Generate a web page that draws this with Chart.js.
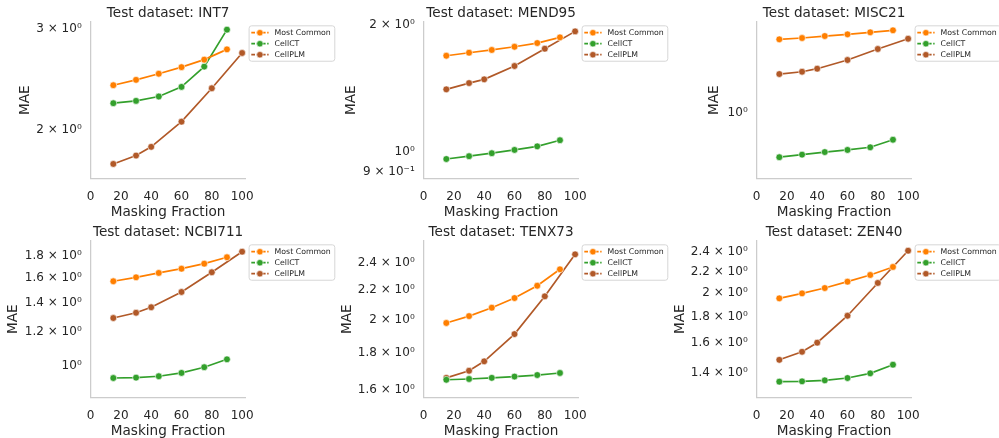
<!DOCTYPE html>
<html><head><meta charset="utf-8">
<script src="https://cdn.jsdelivr.net/npm/chart.js@4.4.1/dist/chart.umd.min.js"></script>
<style>
html,body{margin:0;padding:0;background:#fff;overflow:hidden;width:999px;height:438px;position:relative;}
canvas{position:absolute;}
</style></head><body>
<script>
// ---------- data ----------
const seriesNames = ['Most Common', 'CellCT', 'CellPLM'];
const maskingFractions = [15, 30, 45, 60, 75, 90];      // Most Common & CellCT
const maskingFractionsPLM = [15, 30, 40, 60, 80, 100];  // CellPLM
const xTicks = [0, 20, 40, 60, 80, 100];

const int7MostCommon = [2.391, 2.443, 2.504, 2.571, 2.650, 2.762];
const int7CellCT     = [2.224, 2.245, 2.285, 2.375, 2.577, 2.990];
const int7CellPLM    = [1.742, 1.802, 1.866, 2.065, 2.362, 2.722];
const int7Ticks      = [2, 3];
const int7TickLabels = ['2 × 10⁰', '3 × 10⁰'];

const mend95MostCommon = [1.692, 1.720, 1.746, 1.777, 1.813, 1.870];
const mend95CellCT     = [0.964, 0.979, 0.995, 1.013, 1.033, 1.068];
const mend95CellPLM    = [1.409, 1.458, 1.488, 1.600, 1.758, 1.932];
const mend95Ticks      = [0.9, 1, 2];
const mend95TickLabels = ['9 × 10⁻¹', '10⁰', '2 × 10⁰'];

const misc21MostCommon = [1.635, 1.649, 1.671, 1.690, 1.713, 1.736];
const misc21CellCT     = [0.747, 0.760, 0.773, 0.784, 0.798, 0.839];
const misc21CellPLM    = [1.298, 1.318, 1.345, 1.425, 1.533, 1.641];
const misc21Ticks      = [1];
const misc21TickLabels = ['10⁰'];

const ncbi711MostCommon = [1.574, 1.608, 1.646, 1.684, 1.730, 1.791];
const ncbi711CellCT     = [0.936, 0.938, 0.945, 0.962, 0.992, 1.035];
const ncbi711CellPLM    = [1.292, 1.329, 1.369, 1.486, 1.652, 1.845];
const ncbi711Ticks      = [1, 1.2, 1.4, 1.6, 1.8];
const ncbi711TickLabels = ['10⁰', '1.2 × 10⁰', '1.4 × 10⁰', '1.6 × 10⁰', '1.8 × 10⁰'];

const tenx73MostCommon = [1.979, 2.023, 2.078, 2.143, 2.229, 2.349];
const tenx73CellCT     = [1.651, 1.655, 1.661, 1.668, 1.676, 1.687];
const tenx73CellPLM    = [1.661, 1.699, 1.751, 1.910, 2.155, 2.464];
const tenx73Ticks      = [1.6, 1.8, 2, 2.2, 2.4];
const tenx73TickLabels = ['1.6 × 10⁰', '1.8 × 10⁰', '2 × 10⁰', '2.2 × 10⁰', '2.4 × 10⁰'];

const zen40MostCommon = [1.954, 1.998, 2.046, 2.105, 2.169, 2.248];
const zen40CellCT     = [1.347, 1.349, 1.355, 1.369, 1.398, 1.453];
const zen40CellPLM    = [1.485, 1.539, 1.603, 1.808, 2.093, 2.417];
const zen40Ticks      = [1.4, 1.6, 1.8, 2, 2.2, 2.4];
const zen40TickLabels = ['1.4 × 10⁰', '1.6 × 10⁰', '1.8 × 10⁰', '2 × 10⁰', '2.2 × 10⁰', '2.4 × 10⁰'];

// ---------- panels ----------
const panels = [
  {name: 'INT7',    series: [int7MostCommon, int7CellCT, int7CellPLM],          ticks: int7Ticks,    labels: int7TickLabels},
  {name: 'MEND95',  series: [mend95MostCommon, mend95CellCT, mend95CellPLM],    ticks: mend95Ticks,  labels: mend95TickLabels},
  {name: 'MISC21',  series: [misc21MostCommon, misc21CellCT, misc21CellPLM],    ticks: misc21Ticks,  labels: misc21TickLabels},
  {name: 'NCBI711', series: [ncbi711MostCommon, ncbi711CellCT, ncbi711CellPLM], ticks: ncbi711Ticks, labels: ncbi711TickLabels},
  {name: 'TENX73',  series: [tenx73MostCommon, tenx73CellCT, tenx73CellPLM],    ticks: tenx73Ticks,  labels: tenx73TickLabels},
  {name: 'ZEN40',   series: [zen40MostCommon, zen40CellCT, zen40CellPLM],       ticks: zen40Ticks,   labels: zen40TickLabels},
];

// ---------- layout / style ----------
const yRanges = [[1.643, 3.083], [0.867, 2.033], [0.6485, 1.834], [0.843, 1.954], [1.56, 2.571], [1.255, 2.524]];
const yTitleCenter = [25.8, 18, 48, 13.8, 14.2, 14.5];
const colors = ['#ff7f00', '#33a02c', '#b15928'];
const TEXT = '#262626';
const FONT = 'DejaVu Sans';
const CW = 340, CH = 219;
const AREA_LEFT = 90.6, AREA_W = 155, AREA_BOTTOM = 178.5;

const boxLegend = {
  id: 'boxLegend',
  afterDraw(chart) {
    const {ctx, chartArea} = chart;
    const L = chartArea.right + 3, T = chartArea.top + 3.3;
    ctx.save();
    ctx.font = '7.8px "' + FONT + '"';
    const tw = Math.max(...chart.data.datasets.map(d => ctx.measureText(d.label).width));
    const W = 26 + tw + 3.5, H = 35.4;
    ctx.beginPath();
    ctx.roundRect(L + 0.5, T + 0.5, W, H, 2.5);
    ctx.fillStyle = 'rgba(255,255,255,0.8)';
    ctx.fill();
    ctx.strokeStyle = '#d6d6d6';
    ctx.lineWidth = 1;
    ctx.stroke();
    chart.data.datasets.forEach((d, i) => {
      const y = T + 7.4 + i * 11;
      ctx.strokeStyle = d.borderColor;
      ctx.lineWidth = 1.7;
      ctx.setLineDash([3.7, 1.6]);
      ctx.beginPath(); ctx.moveTo(L + 2.7, y); ctx.lineTo(L + 20, y); ctx.stroke();
      ctx.setLineDash([]);
      ctx.beginPath(); ctx.arc(L + 11.3, y, 3.2, 0, Math.PI * 2);
      ctx.fillStyle = d.backgroundColor; ctx.fill();
      ctx.strokeStyle = '#fff'; ctx.lineWidth = 0.6; ctx.stroke();
      ctx.fillStyle = TEXT; ctx.textBaseline = 'middle'; ctx.textAlign = 'left';
      ctx.fillText(d.label, L + 26, y);
    });
    ctx.restore();
  }
};

panels.forEach((p, i) => {
  const col = i % 3, row = Math.floor(i / 3);
  const cv = document.createElement('canvas');
  cv.width = CW; cv.height = CH;
  cv.style.left = (col * 333) + 'px';
  cv.style.top = (row * 219) + 'px';
  cv.style.width = CW + 'px'; cv.style.height = CH + 'px';
  document.body.appendChild(cv);

  const datasets = seriesNames.map((s, k) => {
    const xs = k === 2 ? maskingFractionsPLM : maskingFractions;
    return {
      label: s,
      data: p.series[k].map((v, j) => ({x: xs[j], y: v})),
      borderColor: colors[k], backgroundColor: colors[k],
      borderWidth: 1.7, pointRadius: 3.4, pointBorderColor: '#ffffff', pointBorderWidth: 0.6,
      pointHoverRadius: 3.4, tension: 0, fill: false, clip: false
    };
  });

  const yMin = yRanges[i][0], yMax = yRanges[i][1];

  new Chart(cv, {
    type: 'line',
    data: {datasets},
    plugins: [boxLegend],
    options: {
      responsive: false, animation: false, devicePixelRatio: 1,
      events: [],
      layout: {padding: {left: 0, right: CW - AREA_LEFT - AREA_W, top: 0, bottom: 0}},
      plugins: {
        legend: {display: false},
        tooltip: {enabled: false},
        title: {
          display: true, text: 'Test dataset: ' + p.name, fullSize: false, color: TEXT,
          font: {family: FONT, size: 13.6, weight: 'normal', lineHeight: 1.2},
          padding: {top: 5.3, bottom: 0.4}
        }
      },
      scales: {
        x: {
          type: 'linear', min: 0, max: 102.3, bounds: 'data',
          afterBuildTicks: s => { s.ticks = xTicks.map(v => ({value: v})); s.min = 0; s.max = 102.3; },
          afterFit: s => { s.height = CH - AREA_BOTTOM; },
          grid: {display: false, drawTicks: false},
          border: {display: true, color: '#cccccc', width: 1.25},
          ticks: {color: TEXT, font: {family: FONT, size: 12}, padding: 10.7, maxRotation: 0, autoSkip: false},
          title: {display: true, text: 'Masking Fraction', color: TEXT,
                  font: {family: FONT, size: 13.6, lineHeight: 1.2}, padding: {top: 0, bottom: -1.5}}
        },
        y: {
          type: 'logarithmic', min: yMin, max: yMax, bounds: 'data',
          afterBuildTicks: s => { s.ticks = p.ticks.map(v => ({value: v})); s.min = yMin; s.max = yMax; },
          afterFit: s => { s.width = AREA_LEFT; },
          grid: {display: false, drawTicks: false},
          border: {display: true, color: '#cccccc', width: 1.25},
          ticks: {color: TEXT, font: {family: FONT, size: 12}, padding: 8.9, autoSkip: false,
                  callback: (v) => { const k = p.ticks.findIndex(t => Math.abs(t - v) < 1e-9); return k >= 0 ? p.labels[k] : ''; }},
          title: {display: true, text: 'MAE', color: TEXT,
                  font: {family: FONT, size: 13.6, lineHeight: 1.2},
                  padding: {top: yTitleCenter[i] - 8.16, bottom: 0}}
        }
      }
    }
  });
});
</script>
</body></html>
